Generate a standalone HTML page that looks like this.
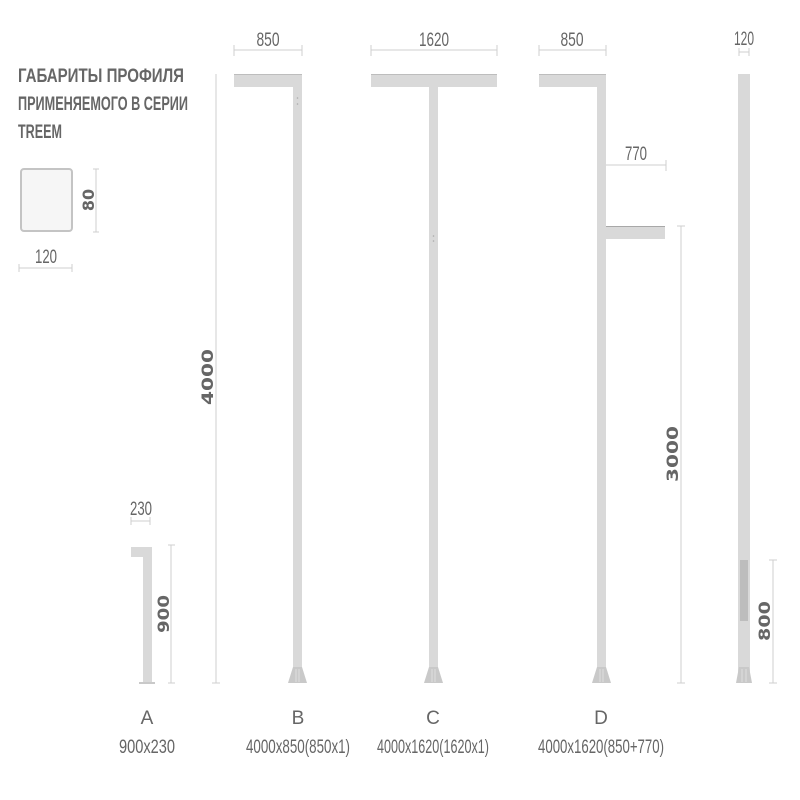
<!DOCTYPE html>
<html><head><meta charset="utf-8"><style>
html,body{margin:0;padding:0;background:#fff;width:800px;height:800px;overflow:hidden}
svg{display:block}
.t{font-family:"Liberation Sans",sans-serif;fill:#666;font-size:19px}
.r{font-family:"DejaVu Sans",sans-serif;font-weight:bold;fill:#666;font-size:16px}
.d{stroke:#cfcfcf;stroke-width:1;fill:none}
.p{fill:#d9d9d9}
.b{fill:#c9c9c9}
</style></head><body>
<svg width="800" height="800" viewBox="0 0 800 800" xmlns="http://www.w3.org/2000/svg">
<text class="t" x="18" y="82" font-weight="bold" font-size="17" textLength="166" lengthAdjust="spacingAndGlyphs">ГАБАРИТЫ ПРОФИЛЯ</text>
<text class="t" x="18" y="110" font-weight="bold" font-size="17" textLength="170" lengthAdjust="spacingAndGlyphs">ПРИМЕНЯЕМОГО В СЕРИИ</text>
<text class="t" x="18" y="138" font-weight="bold" font-size="17" textLength="44" lengthAdjust="spacingAndGlyphs">TREEM</text>
<rect x="21" y="169" width="51" height="62" rx="3" fill="#f6f6f6" stroke="#c4c4c4" stroke-width="2"/>
<path class="d" d="M96 169V232M93 169H99M93 232H99"/>
<text class="r" transform="translate(94,200) rotate(-90)" text-anchor="middle" font-size="14">80</text>
<path class="d" d="M19 268H72M19 264V272M72 264V272"/>
<text class="t" x="46" y="263" text-anchor="middle" textLength="22" lengthAdjust="spacingAndGlyphs">120</text>

<text class="t" x="141" y="515" text-anchor="middle" textLength="22" lengthAdjust="spacingAndGlyphs">230</text>
<path class="d" d="M131 521H150M131 517V525M150 517V525"/>
<rect class="p" x="131" y="547" width="21" height="10"/>
<rect class="p" x="143" y="547" width="9" height="136"/>
<rect class="b" x="139" y="682" width="16" height="2"/>
<path class="d" d="M171 545V683M168 545H175M168 683H175"/>
<text class="r" transform="translate(169,614) rotate(-90)" text-anchor="middle" textLength="38" lengthAdjust="spacingAndGlyphs">900</text>
<text class="t" x="147" y="724" text-anchor="middle">A</text>
<text class="t" x="147" y="753" text-anchor="middle" textLength="56" lengthAdjust="spacingAndGlyphs">900x230</text>

<path class="d" d="M216 74V683M212 683H220"/>
<text class="r" transform="translate(213,377) rotate(-90)" text-anchor="middle" textLength="56" lengthAdjust="spacingAndGlyphs">4000</text>

<text class="t" x="268" y="46" text-anchor="middle" textLength="23" lengthAdjust="spacingAndGlyphs">850</text>
<path class="d" d="M234 50H302M234 45V56M302 45V56"/>
<rect class="p" x="234" y="74" width="68" height="13"/>
<rect x="234" y="74" width="68" height="1" fill="#bdbdbd"/>
<rect class="p" x="293" y="87" width="9" height="596"/>
<circle cx="297.5" cy="98" r="0.8" fill="#aaa"/><circle cx="297.5" cy="104" r="0.8" fill="#aaa"/>
<path class="b" d="M293 667H302L307 683H288Z"/>
<path d="M296 669V682M299 669V682" stroke="#dedede" stroke-width="1"/>
<text class="t" x="298" y="724" text-anchor="middle">B</text>
<text class="t" x="298" y="753" text-anchor="middle" textLength="104" lengthAdjust="spacingAndGlyphs">4000x850(850x1)</text>

<text class="t" x="434" y="46" text-anchor="middle" textLength="30" lengthAdjust="spacingAndGlyphs">1620</text>
<path class="d" d="M371 50H497M371 45V56M497 45V56"/>
<rect class="p" x="371" y="74" width="126" height="13"/>
<rect x="371" y="74" width="126" height="1" fill="#bdbdbd"/>
<rect class="p" x="429" y="87" width="9" height="596"/>
<circle cx="433.5" cy="236" r="0.8" fill="#aaa"/><circle cx="433.5" cy="241" r="0.8" fill="#aaa"/>
<path class="b" d="M429 667H438L443 683H424Z"/>
<path d="M432 669V682M435 669V682" stroke="#dedede" stroke-width="1"/>
<text class="t" x="433" y="724" text-anchor="middle">C</text>
<text class="t" x="433" y="753" text-anchor="middle" textLength="112" lengthAdjust="spacingAndGlyphs">4000x1620(1620x1)</text>

<text class="t" x="572" y="46" text-anchor="middle" textLength="23" lengthAdjust="spacingAndGlyphs">850</text>
<path class="d" d="M539 50H606M539 45V56M606 45V56"/>
<rect class="p" x="539" y="74" width="67" height="13"/>
<rect x="539" y="74" width="67" height="1" fill="#bdbdbd"/>
<rect class="p" x="597" y="87" width="9" height="596"/>
<text class="t" x="636" y="160" text-anchor="middle" textLength="22" lengthAdjust="spacingAndGlyphs">770</text>
<path class="d" d="M606 165H666M666 160V171"/>
<rect class="p" x="606" y="226" width="59" height="13"/>
<rect x="606" y="226" width="59" height="1" fill="#a8a8a8"/>
<path class="b" d="M597 667H606L611 683H592Z"/>
<path d="M600 669V682M603 669V682" stroke="#dedede" stroke-width="1"/>
<path class="d" d="M681 226V683M677 226H685M677 683H685"/>
<text class="r" transform="translate(678,454) rotate(-90)" text-anchor="middle" textLength="56" lengthAdjust="spacingAndGlyphs">3000</text>
<text class="t" x="601" y="724" text-anchor="middle">D</text>
<text class="t" x="601" y="753" text-anchor="middle" textLength="126" lengthAdjust="spacingAndGlyphs">4000x1620(850+770)</text>

<text class="t" x="744" y="45" text-anchor="middle" textLength="20" lengthAdjust="spacingAndGlyphs">120</text>
<path class="d" d="M739 52H749M739 48V56M749 48V56"/>
<rect class="p" x="738" y="74" width="12" height="609"/>
<rect x="740" y="560" width="8" height="61" fill="#bdbdbd"/>
<path class="b" d="M739 667H749L752 683H736Z"/>
<path d="M742 669V682M746 669V682" stroke="#dedede" stroke-width="1"/>
<path class="d" d="M773 560V683M769 560H777M769 683H777"/>
<text class="r" transform="translate(770,621) rotate(-90)" text-anchor="middle" textLength="40" lengthAdjust="spacingAndGlyphs">800</text>
</svg>
</body></html>
